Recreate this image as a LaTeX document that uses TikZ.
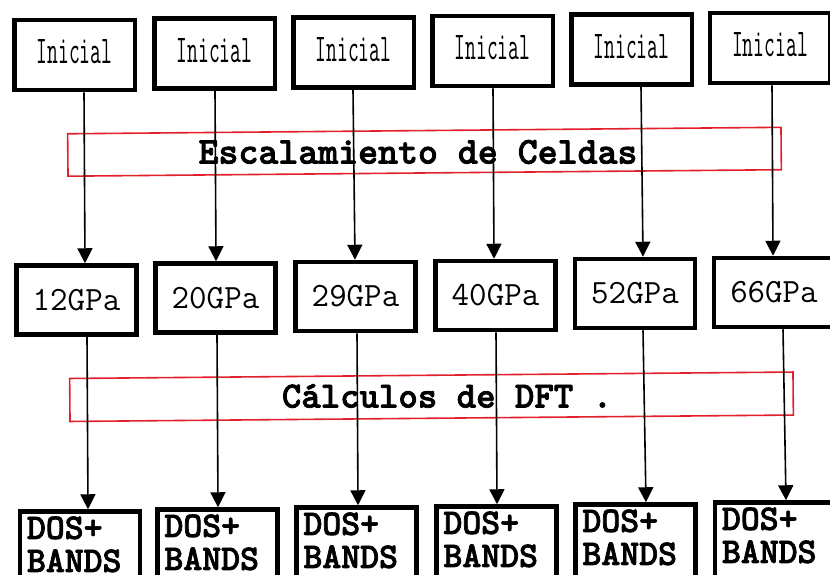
\documentclass[tikz,border=0pt]{standalone}
\usepackage{fontspec}
\newfontfamily\monogruesa{lmmonolt10-bold.otf}[FakeBold=2]
\usepackage{xcolor}
\usepackage{tikz}
\usetikzlibrary{arrows.meta}

\definecolor{rojo}{RGB}{226,32,44}
\newcommand{\estirado}[1]{\scalebox{1}[1.87]{#1}}

\begin{document}
\begin{tikzpicture}[
    x=1pt, y=-1pt,
    inicial/.style={rectangle, draw=black, line width=4.5pt, fill=white,
                    minimum width=120.5pt, minimum height=70pt, inner sep=0pt,
                    text depth=7pt, font=\fontsize{21}{22}\selectfont\ttfamily},
    presion/.style={rectangle, draw=black, line width=4.5pt, fill=white,
                    minimum width=120pt, minimum height=69pt, inner sep=0pt,
                    font=\fontsize{34}{36}\selectfont\ttfamily},
    salida/.style={rectangle, draw=black, line width=4.5pt, fill=white,
                   anchor=north, text width=106pt, inner xsep=7pt, inner ysep=5pt,
                   align=left, text depth=80pt,
                   font=\fontsize{36}{33}\selectfont\monogruesa},
    etapa/.style={rectangle, draw=rojo, line width=1.6pt, inner sep=0pt},
    etiqueta/.style={font=\fontsize{38}{40}\selectfont\monogruesa},
    arr/.style={-{Triangle[length=15pt, width=15pt]}, line width=1.6pt, black},
]

\clip (0,0) rectangle (830,574);

% Red stage bands
\node[etapa, rotate=0.52, minimum width=713.4pt, minimum height=42.4pt]
    (esc) at (424.5,151.75) {};
\node[etiqueta] (esctxt) at (418,152) {Escalamiento de Celdas};
\node[etapa, rotate=0.51, minimum width=723.4pt, minimum height=43pt]
    (dft) at (431.5,396.75) {};
\node[etiqueta, font=\fontsize{37}{39}\selectfont\monogruesa]
    (dfttxt) at (447,396) {Cálculos de DFT .};

% Top row: initial cells
\node[inicial] (i1) at (74.5,55)   {\estirado{Inicial}};
\node[inicial] (i2) at (214.5,53.5) {\estirado{Inicial}};
\node[inicial] (i3) at (353.5,52.5) {\estirado{Inicial}};
\node[inicial] (i4) at (492.5,51)   {\estirado{Inicial}};
\node[inicial] (i5) at (631.5,49.5) {\estirado{Inicial}};
\node[inicial] (i6) at (770,48)     {\estirado{Inicial}};

% Middle row: pressures
\node[presion] (p1) at (76.5,300)   {12GPa};
\node[presion] (p2) at (215.5,298)  {20GPa};
\node[presion] (p3) at (355.5,296.5) {29GPa};
\node[presion] (p4) at (495.5,295.5) {40GPa};
\node[presion] (p5) at (635,293.5)  {52GPa};
\node[presion] (p6) at (774,292.5)  {66GPa};

% Bottom row: results
\node[salida] (d1) at (80,509.25)    {DOS+\\BANDS};
\node[salida] (d2) at (217.5,507.25) {DOS+\\BANDS};
\node[salida] (d3) at (356.5,505.25) {DOS+\\BANDS};
\node[salida] (d4) at (496.5,504.25) {DOS+\\BANDS};
\node[salida] (d5) at (635.5,502.25) {DOS+\\BANDS};
\node[salida] (d6) at (775,500.25)   {DOS+\\BANDS};

% Arrows through the cell scaling band
\draw[arr] ([xshift=9.5pt]i1.south)  -- ([xshift=8.5pt]p1.north);
\draw[arr] ([xshift=0.5pt]i2.south)  -- ([xshift=0.5pt]p2.north);
\draw[arr] ([xshift=-0.5pt]i3.south) -- ([xshift=-0.5pt]p3.north);
\draw[arr] ([xshift=0.5pt]i4.south)  -- ([xshift=-1.5pt]p4.north);
\draw[arr] ([xshift=9.5pt]i5.south)  -- ([xshift=8pt]p5.north);
\draw[arr] ([xshift=2pt]i6.south)    -- ([xshift=-1pt]p6.north);

% Arrows through the DFT band
\draw[arr] ([xshift=10.5pt]p1.south) -- ([xshift=8pt]d1.north);
\draw[arr] ([xshift=1.5pt]p2.south)  -- ([xshift=0.5pt]d2.north);
\draw[arr] ([xshift=1.5pt]p3.south)  -- ([xshift=1.5pt]d3.north);
\draw[arr] ([xshift=0.5pt]p4.south)  -- ([xshift=0.5pt]d4.north);
\draw[arr] ([xshift=8pt]p5.south)    -- ([xshift=10.5pt]d5.north);
\draw[arr] ([xshift=9pt]p6.south)    -- ([xshift=11pt]d6.north);

\end{tikzpicture}
\end{document}
